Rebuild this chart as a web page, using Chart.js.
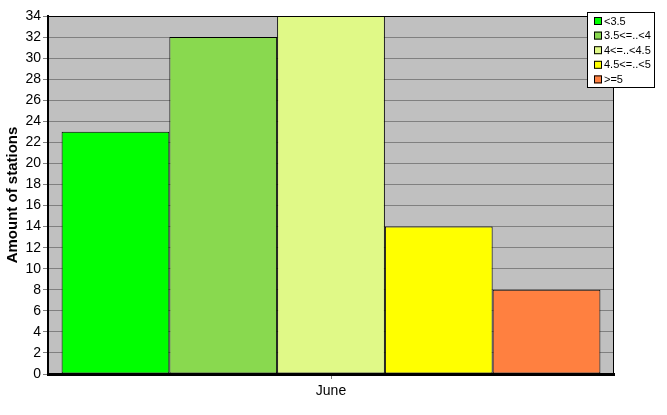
<!DOCTYPE html>
<html>
<head>
<meta charset="utf-8">
<script src="https://cdn.jsdelivr.net/npm/chart.js@4"></script>
<style>
  html, body { margin: 0; padding: 0; background: #ffffff; }
  #wrap { width: 667px; height: 415px; position: relative; }
</style>
</head>
<body>
<div id="wrap"><canvas id="stationsChart"></canvas></div>
<script>
// data
const categories = ['June'];
const classLabels = ['<3.5', '3.5<=..<4', '4<=..<4.5', '4.5<=..<5', '>=5'];
const stationCounts = [23, 32, 34, 14, 8];
const classColors = ['#00ff00', '#89d94f', '#e0f987', '#ffff00', '#ff8040'];
const yTicks = { min: 0, max: 34, step: 2 };

// grey plot background + frame
const plotFrame = {
    id: 'plotFrame',
    beforeDraw(chart) {
        const a = chart.chartArea;
        const ctx = chart.ctx;
        ctx.save();
        ctx.fillStyle = '#c0c0c0';
        ctx.fillRect(a.left, a.top, a.right - a.left, a.bottom - a.top);
        ctx.restore();
    },
    afterDatasetsDraw(chart) {
        const a = chart.chartArea;
        const ctx = chart.ctx;
        ctx.save();
        ctx.strokeStyle = '#000';
        ctx.lineWidth = 1;
        ctx.strokeRect(a.left + 0.5, a.top + 0.5, a.right - a.left - 1, a.bottom - a.top);
        ctx.restore();
    }
};

// small boxed legend, top right
const boxLegend = {
    id: 'boxLegend',
    afterDraw(chart) {
        const ctx = chart.ctx;
        const x = 587, y = 12, w = 67, h = 75;
        ctx.save();
        ctx.fillStyle = '#fff';
        ctx.fillRect(x, y, w, h);
        ctx.strokeStyle = '#000';
        ctx.lineWidth = 1;
        ctx.strokeRect(x + 0.5, y + 0.5, w, h);
        ctx.font = '11px "Liberation Sans", Arial, sans-serif';
        ctx.textBaseline = 'middle';
        chart.data.datasets.forEach(function (ds, i) {
            const ry = y + 9 + i * 14.6;
            ctx.fillStyle = ds.backgroundColor;
            ctx.fillRect(x + 7, ry - 4, 8, 8);
            ctx.strokeRect(x + 7.5, ry - 3.5, 7, 7);
            ctx.fillStyle = '#000';
            ctx.fillText(ds.label, x + 17, ry + 0.5);
        });
        ctx.restore();
    }
};

const datasets = classLabels.map(function (label, i) {
    return {
        label: label,
        data: [stationCounts[i]],
        backgroundColor: classColors[i],
        borderColor: '#000',
        borderWidth: 1,
        borderSkipped: false,
        barPercentage: 1,
        categoryPercentage: 0.952
    };
});

Chart.defaults.font.family = '"Liberation Sans", Arial, sans-serif';
Chart.defaults.color = '#000';

new Chart(document.getElementById('stationsChart'), {
    type: 'bar',
    data: { labels: categories, datasets: datasets },
    options: {
        responsive: true,
        maintainAspectRatio: false,
        animation: false,
        layout: { padding: { top: 16, right: 53, left: 0, bottom: 0 } },
        plugins: {
            legend: { display: false },
            tooltip: { enabled: false }
        },
        scales: {
            x: {
                afterFit: function (s) { s.height = 41; },
                grid: {
                    offset: false,
                    drawOnChartArea: false,
                    drawTicks: true,
                    tickLength: 5,
                    tickColor: '#808080'
                },
                border: { color: '#000', width: 3 },
                ticks: { font: { size: 14 }, padding: 4 }
            },
            y: {
                min: yTicks.min,
                max: yTicks.max,
                afterFit: function (s) { s.width = 48; },
                grid: {
                    color: '#808080',
                    lineWidth: 1,
                    tickLength: 5,
                    tickColor: '#808080'
                },
                border: { color: '#000', width: 2 },
                ticks: { stepSize: yTicks.step, font: { size: 14 }, padding: 2 },
                title: {
                    display: true,
                    text: 'Amount of stations',
                    font: { size: 15, weight: 'bold' },
                    padding: { top: 4, bottom: 0 }
                }
            }
        }
    },
    plugins: [plotFrame, boxLegend]
});
</script>
</body>
</html>
